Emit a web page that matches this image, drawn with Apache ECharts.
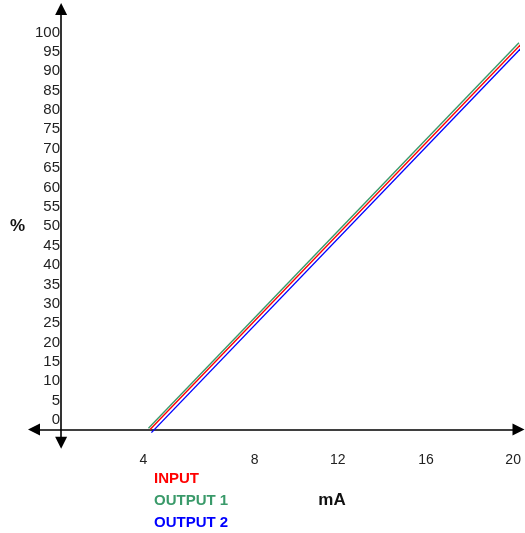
<!DOCTYPE html>
<html>
<head>
<meta charset="utf-8">
<script src="https://cdn.jsdelivr.net/npm/echarts@6/dist/echarts.min.js"></script>
<style>
html,body{margin:0;padding:0;background:#fff;}
#chart{width:525px;height:533px;}
</style>
</head>
<body>
<div id="chart"></div>
<script>
// ---- data (mA, %) ----
const xTickLabels = [4, 8, 12, 16, 20];
const yTickLabels = [0, 5, 10, 15, 20, 25, 30, 35, 40, 45, 50, 55, 60, 65, 70, 75, 80, 85, 90, 95, 100];
const seriesNames = ['INPUT', 'OUTPUT 1', 'OUTPUT 2'];
const inputLine = [[3.9, 0], [20.2, 99.6]];
const output1Line = [[3.83, 0.3], [20.08, 99.8]];
const output2Line = [[3.96, -0.8], [20.3, 99.2]];

const colors = ['#ff0000', '#3a9a6a', '#0000ff'];
const FONT = "'Liberation Sans', Arial, sans-serif";

// small horizontal nudges of the x tick labels (styling only), as rich-text padding
const xLabelRich = {
  l4:  {padding: [0, 18, 0, 0]},
  l8:  {padding: [0, 0, 0, 22]},
  l12: {padding: [0, 0, 0, 6]},
  l16: {padding: [0, 0, 0, 0]},
  l20: {padding: [0, 8, 0, 0]}
};

const chart = echarts.init(document.getElementById('chart'), null, {renderer: 'canvas'});
chart.setOption({
  animation: false,
  backgroundColor: '#ffffff',
  grid: {left: 34, right: 6.5, top: 9, bottom: 90.3, containLabel: false, outerBoundsMode: 'none'},
  legend: {
    orient: 'vertical',
    left: 149,
    top: 471,
    height: 62,
    padding: 0,
    icon: 'none',
    itemWidth: 0,
    itemHeight: 14,
    itemGap: 7,
    selectedMode: false,
    textStyle: {fontFamily: FONT, fontSize: 15, fontWeight: 'bold'},
    data: seriesNames.map((n, i) => ({name: n, textStyle: {color: colors[i]}}))
  },
  xAxis: {
    type: 'value',
    min: -1.19,
    max: 20.06,
    splitLine: {show: false},
    axisTick: {show: false},
    axisLine: {
      show: true,
      onZero: true,
      symbol: ['triangle', 'triangle'],
      symbolSize: [12, 12],
      lineStyle: {color: '#000', width: 1.6}
    },
    axisLabel: {
      customValues: xTickLabels,
      margin: 10,
      fontFamily: FONT,
      fontSize: 14,
      color: '#222',
      formatter: v => '{l' + v + '|' + v + '}',
      rich: (function () {
        const r = {};
        Object.keys(xLabelRich).forEach(k => {
          r[k] = Object.assign({fontFamily: FONT, fontSize: 14, color: '#222'}, xLabelRich[k]);
        });
        return r;
      })()
    }
  },
  yAxis: {
    type: 'value',
    min: -3.4,
    max: 108.5,
    splitLine: {show: false},
    axisTick: {show: false},
    name: '%',
    nameLocation: 'middle',
    nameRotate: 0,
    nameGap: 9,
    nameMoveOverlap: false,
    nameTextStyle: {fontFamily: FONT, fontSize: 17, fontWeight: 'bold', color: '#111'},
    axisLine: {
      show: true,
      onZero: true,
      symbol: ['triangle', 'triangle'],
      symbolSize: [12, 12],
      lineStyle: {color: '#000', width: 1.6}
    },
    axisLabel: {
      customValues: yTickLabels,
      margin: -26,
      fontFamily: FONT,
      fontSize: 15,
      color: '#222',
      verticalAlign: 'bottom',
      padding: [0, 0, 2, 0]
    }
  },
  graphic: [{
    type: 'text',
    x: 332,
    y: 500,
    style: {text: 'mA', font: "bold 17px 'Liberation Sans', Arial, sans-serif", fill: '#111', textAlign: 'center', textVerticalAlign: 'middle'}
  }],
  series: [
    {name: seriesNames[0], type: 'line', data: inputLine, showSymbol: false, symbol: 'none', clip: false, lineStyle: {color: colors[0], width: 1.4}, itemStyle: {color: colors[0]}, z: 3},
    {name: seriesNames[1], type: 'line', data: output1Line, showSymbol: false, symbol: 'none', clip: false, lineStyle: {color: colors[1], width: 1.4}, itemStyle: {color: colors[1]}, z: 2},
    {name: seriesNames[2], type: 'line', data: output2Line, showSymbol: false, symbol: 'none', clip: false, lineStyle: {color: colors[2], width: 1.4}, itemStyle: {color: colors[2]}, z: 2}
  ]
});
</script>
</body>
</html>
